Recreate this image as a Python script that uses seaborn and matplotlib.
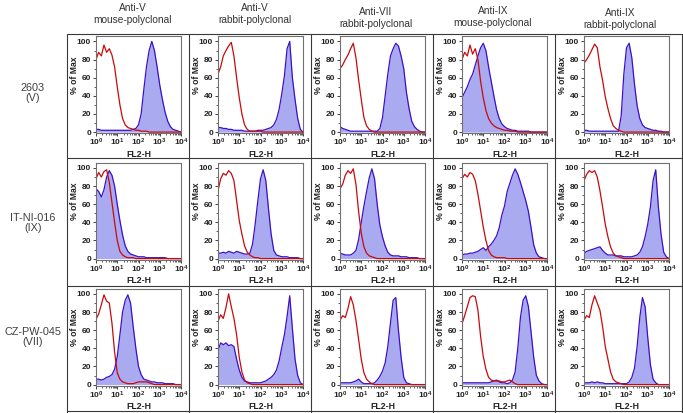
import numpy as np
import matplotlib
matplotlib.use('Agg')
import matplotlib.pyplot as plt
from matplotlib.ticker import LogLocator, NullFormatter, MultipleLocator
import seaborn as sns

# FL2-H histogram bins, in decades (10^0 .. 10^4)
fl2_decades = np.linspace(0, 4, 33)

strain_labels = ['2603\n(V)', 'IT-NI-016\n(IX)', 'CZ-PW-045\n(VII)']
antibody_labels = ['Anti-V\nmouse-polyclonal', 'Anti-V\nrabbit-polyclonal',
                   'Anti-VII\nrabbit-polyclonal', 'Anti-IX\nmouse-polyclonal',
                   'Anti-IX\nrabbit-polyclonal']
decade_labels = ['10^{0}', '10^{1}', '10^{2}', '10^{3}', '10^{4}']

# % of max per bin: ctrl = control (red line), stain = antiserum (blue filled)
# strain 2603 (V)
ctrl_2603_v_mouse = [80, 88, 84, 96, 88, 92, 85, 72, 50, 30, 15, 8, 5, 4, 3, 2,
                     2, 1, 1, 1, 0, 0, 0, 0, 0, 0, 0, 0, 0, 0, 0, 0, 0]
stain_2603_v_mouse = [3, 3, 2, 2, 2, 2, 2, 2, 2, 2, 2, 2, 2, 2, 3, 4,
                      8, 20, 47, 72, 90, 100, 90, 72, 52, 36, 22, 12, 6, 3, 2, 1, 0]
ctrl_2603_v_rabbit = [64, 72, 84, 90, 95, 99, 84, 60, 38, 20, 8, 3, 1, 1, 1, 1,
                      1, 0, 0, 0, 0, 0, 0, 0, 0, 0, 0, 0, 0, 0, 0, 0, 0]
stain_2603_v_rabbit = [5, 5, 4, 4, 3, 3, 2, 2, 2, 2, 1, 1, 1, 1, 1, 2,
                       2, 2, 3, 4, 5, 8, 14, 25, 42, 62, 92, 100, 60, 36, 15, 3, 0]
ctrl_2603_vii_rabbit = [70, 74, 80, 85, 92, 98, 82, 58, 36, 16, 7, 3, 1, 0, 0, 0,
                        0, 0, 0, 0, 0, 0, 0, 0, 0, 0, 0, 0, 0, 0, 0, 0, 0]
stain_2603_vii_rabbit = [6, 4, 3, 2, 1, 1, 1, 1, 1, 1, 1, 1, 1, 1, 1, 4,
                         16, 40, 64, 84, 92, 98, 95, 84, 70, 44, 26, 12, 6, 3, 1, 0, 0]
ctrl_2603_ix_mouse = [80, 88, 84, 96, 86, 92, 80, 56, 38, 24, 15, 10, 7, 5, 4, 3,
                      2, 2, 1, 1, 1, 0, 0, 0, 0, 0, 0, 0, 0, 0, 0, 0, 0]
stain_2603_ix_mouse = [38, 44, 50, 58, 64, 74, 84, 93, 98, 90, 72, 56, 40, 25, 15, 9,
                       6, 4, 3, 2, 2, 1, 1, 1, 1, 1, 0, 0, 0, 0, 0, 0, 0]
ctrl_2603_ix_rabbit = [76, 80, 85, 91, 97, 93, 72, 57, 39, 26, 15, 7, 4, 2, 1, 0,
                       0, 0, 0, 0, 0, 0, 0, 0, 0, 0, 0, 0, 0, 0, 0, 0, 0]
stain_2603_ix_rabbit = [2, 2, 1, 1, 1, 1, 1, 1, 1, 1, 1, 1, 1, 1, 18, 64,
                        93, 98, 82, 53, 29, 15, 8, 5, 4, 3, 2, 2, 1, 1, 0, 0, 0]

# strain IT-NI-016 (IX)
ctrl_itni_v_mouse = [88, 95, 90, 96, 98, 84, 62, 40, 20, 8, 4, 2, 1, 1, 1, 0,
                     0, 0, 0, 0, 0, 0, 0, 0, 0, 0, 0, 0, 0, 0, 0, 0, 0]
stain_itni_v_mouse = [77, 74, 68, 76, 90, 97, 92, 80, 60, 42, 26, 14, 8, 5, 4, 3,
                      2, 2, 2, 1, 1, 1, 1, 1, 1, 1, 1, 0, 0, 0, 0, 0, 0]
ctrl_itni_v_rabbit = [75, 88, 94, 92, 97, 94, 86, 64, 42, 27, 14, 7, 4, 2, 1, 1,
                      0, 0, 0, 0, 0, 0, 0, 0, 0, 0, 0, 0, 0, 0, 0, 0, 0]
stain_itni_v_rabbit = [6, 6, 7, 6, 8, 7, 6, 8, 7, 6, 5, 5, 6, 16, 38, 64,
                       88, 98, 86, 55, 27, 9, 4, 3, 2, 2, 2, 1, 1, 1, 1, 0, 0]
ctrl_itni_vii_rabbit = [77, 82, 92, 97, 94, 99, 82, 52, 28, 13, 6, 3, 2, 1, 0, 0,
                        0, 0, 0, 0, 0, 0, 0, 0, 0, 0, 0, 0, 0, 0, 0, 0, 0]
stain_itni_vii_rabbit = [6, 5, 4, 4, 4, 6, 9, 21, 40, 58, 74, 89, 99, 88, 60, 37,
                         24, 14, 7, 4, 3, 3, 3, 2, 2, 2, 1, 1, 1, 1, 0, 0, 0]
ctrl_itni_ix_mouse = [88, 93, 90, 95, 93, 86, 71, 53, 35, 20, 9, 4, 2, 1, 1, 1,
                      1, 0, 0, 0, 0, 0, 0, 0, 0, 0, 0, 0, 0, 0, 0, 0, 0]
stain_itni_ix_mouse = [4, 5, 5, 6, 6, 7, 8, 10, 12, 9, 13, 16, 20, 25, 34, 48,
                       58, 74, 83, 92, 99, 93, 84, 74, 64, 52, 34, 15, 6, 2, 1, 0, 0]
ctrl_itni_ix_rabbit = [86, 93, 97, 95, 97, 90, 75, 57, 38, 24, 13, 6, 3, 2, 1, 0,
                       0, 0, 0, 0, 0, 0, 0, 0, 0, 0, 0, 0, 0, 0, 0, 0, 0]
stain_itni_ix_rabbit = [6, 8, 9, 10, 11, 12, 13, 9, 6, 4, 4, 4, 3, 3, 3, 2,
                        2, 2, 2, 3, 4, 7, 13, 24, 38, 57, 86, 98, 57, 27, 7, 2, 0]

# strain CZ-PW-045 (VII)
ctrl_czpw_v_mouse = [72, 78, 88, 99, 92, 90, 68, 36, 13, 6, 3, 2, 1, 1, 1, 2,
                     3, 3, 3, 3, 2, 1, 0, 0, 0, 0, 0, 0, 0, 0, 0, 0, 0]
stain_czpw_v_mouse = [6, 6, 5, 6, 8, 9, 11, 17, 31, 55, 80, 93, 99, 90, 64, 40,
                      20, 11, 6, 5, 4, 3, 3, 2, 2, 2, 1, 1, 1, 1, 0, 0, 0]
ctrl_czpw_v_rabbit = [70, 77, 73, 85, 100, 86, 73, 55, 30, 14, 5, 2, 1, 0, 0, 0,
                      0, 0, 0, 0, 0, 0, 0, 0, 0, 0, 0, 0, 0, 0, 0, 0, 0]
stain_czpw_v_rabbit = [38, 46, 44, 46, 43, 44, 42, 28, 16, 8, 4, 3, 2, 2, 2, 2,
                       2, 3, 4, 6, 8, 11, 16, 26, 41, 55, 75, 98, 62, 28, 10, 2, 0]
ctrl_czpw_vii_rabbit = [71, 76, 74, 84, 97, 88, 71, 50, 28, 13, 6, 3, 1, 0, 0, 0,
                        0, 0, 0, 0, 0, 0, 0, 0, 0, 0, 0, 0, 0, 0, 0, 0, 0]
stain_czpw_vii_rabbit = [2, 2, 2, 2, 2, 3, 4, 6, 3, 1, 1, 1, 1, 2, 5, 9,
                         15, 24, 42, 68, 93, 96, 60, 30, 8, 2, 1, 0, 0, 0, 0, 0, 0]
ctrl_czpw_ix_mouse = [67, 76, 86, 96, 98, 97, 82, 53, 31, 17, 8, 5, 4, 4, 4, 3,
                      3, 4, 5, 3, 1, 0, 0, 0, 0, 0, 0, 0, 0, 0, 0, 0, 0]
stain_czpw_ix_mouse = [2, 2, 2, 2, 2, 2, 2, 2, 2, 2, 2, 3, 4, 5, 3, 2,
                       2, 1, 2, 5, 14, 40, 74, 93, 98, 86, 58, 30, 10, 4, 1, 0, 0]
ctrl_czpw_ix_rabbit = [71, 76, 74, 88, 98, 90, 82, 64, 42, 28, 14, 6, 3, 2, 1, 0,
                       0, 0, 0, 0, 0, 0, 0, 0, 0, 0, 0, 0, 0, 0, 0, 0, 0]
stain_czpw_ix_rabbit = [2, 2, 2, 3, 2, 3, 2, 2, 1, 1, 1, 1, 1, 1, 1, 1,
                        1, 3, 8, 18, 42, 74, 96, 86, 52, 22, 6, 2, 0, 0, 0, 0, 0]

panels = [
    [(ctrl_2603_v_mouse, stain_2603_v_mouse), (ctrl_2603_v_rabbit, stain_2603_v_rabbit),
     (ctrl_2603_vii_rabbit, stain_2603_vii_rabbit), (ctrl_2603_ix_mouse, stain_2603_ix_mouse),
     (ctrl_2603_ix_rabbit, stain_2603_ix_rabbit)],
    [(ctrl_itni_v_mouse, stain_itni_v_mouse), (ctrl_itni_v_rabbit, stain_itni_v_rabbit),
     (ctrl_itni_vii_rabbit, stain_itni_vii_rabbit), (ctrl_itni_ix_mouse, stain_itni_ix_mouse),
     (ctrl_itni_ix_rabbit, stain_itni_ix_rabbit)],
    [(ctrl_czpw_v_mouse, stain_czpw_v_mouse), (ctrl_czpw_v_rabbit, stain_czpw_v_rabbit),
     (ctrl_czpw_vii_rabbit, stain_czpw_vii_rabbit), (ctrl_czpw_ix_mouse, stain_czpw_ix_mouse),
     (ctrl_czpw_ix_rabbit, stain_czpw_ix_rabbit)],
]

RED = '#c80a0a'
BLUE = '#3c10c8'
FILL = '#aaaaf0'
GRID_LINE = '#3a3a3a'

sns.set_style('ticks')
plt.rcParams['font.family'] = ['Liberation Sans', 'DejaVu Sans']
plt.rcParams['mathtext.fontset'] = 'custom'
plt.rcParams['mathtext.rm'] = 'Liberation Sans'
plt.rcParams['mathtext.bf'] = 'Liberation Sans:bold'

W, H = 683, 413
fig = plt.figure(figsize=(W / 100, H / 100), dpi=100)

# background layer in pixel coordinates for the table frame and labels
bg = fig.add_axes([0, 0, 1, 1])
bg.set_xlim(0, W)
bg.set_ylim(H, 0)
bg.axis('off')

col_edges = [67, 189, 311, 433, 555, 682]
row_edges = [34, 158, 286, 411]
for x in col_edges:
    bg.plot([x, x], [row_edges[0], H], color=GRID_LINE, lw=0.8)
for y in row_edges:
    bg.plot([col_edges[0], col_edges[-1]], [y, y], color=GRID_LINE, lw=0.8)

header_x = [133, 255, 376, 493, 620]
header_y = [14, 14, 18, 17, 19]
for label, hx, hy in zip(antibody_labels, header_x, header_y):
    bg.text(hx, hy, label, ha='center', va='center', fontsize=7.3,
            color='#333333', linespacing=1.25)

row_label_y = [93, 223, 337]
for label, ry in zip(strain_labels, row_label_y):
    bg.text(33, ry, label, ha='center', va='center', fontsize=7.8,
            color='#404040', linespacing=1.1)

ax_left0 = 96
ax_step = 122
ax_w = 85
ax_h = 97
ax_tops = [36, 162.5, 288.5]

for r, row in enumerate(panels):
    for c, (ctrl, stain) in enumerate(row):
        left = ax_left0 + ax_step * c
        top = ax_tops[r]
        ax = fig.add_axes([left / W, 1 - (top + ax_h) / H, ax_w / W, ax_h / H])

        xs = 10 ** np.concatenate([[0.0], fl2_decades])
        blue = np.concatenate([[0], stain])
        red = np.concatenate([[0], ctrl])

        ax.fill_between(xs, 0, blue, color=FILL, lw=0)
        sns.lineplot(x=xs, y=blue, color=BLUE, lw=0.9, ax=ax,
                     estimator=None, sort=False)
        sns.lineplot(x=xs, y=red, color=RED, lw=0.9, ax=ax,
                     estimator=None, sort=False)

        ax.set_xscale('log')
        ax.set_xlim(1, 1e4)
        ax.set_ylim(-1, 106)
        ax.set_xticks([1, 10, 100, 1000, 10000],
                      labels=[r'$\mathbf{%s}$' % d for d in decade_labels])
        ax.xaxis.set_minor_locator(LogLocator(base=10, subs=np.arange(2, 10), numticks=10))
        ax.xaxis.set_minor_formatter(NullFormatter())
        ax.set_yticks([0, 20, 40, 60, 80, 100])
        ax.yaxis.set_minor_locator(MultipleLocator(10))
        for lbl in ax.get_yticklabels():
            lbl.set_fontweight('bold')

        ax.tick_params(which='major', direction='out', length=2.5, width=0.6,
                       pad=1, labelsize=6.0, colors='#222222')
        ax.tick_params(axis='x', which='major', pad=0.5)
        ax.tick_params(which='minor', direction='out', length=1.3, width=0.5,
                       colors='#222222')

        ax.set_xlabel('FL2-H', fontsize=6.3, fontweight='bold', color='#222222')
        ax.xaxis.set_label_coords(0.5, -0.175)
        ax.set_ylabel('% of Max', fontsize=6.2, fontweight='bold', color='#222222')
        ax.yaxis.set_label_coords(-0.2, 0.6)

        for sp in ax.spines.values():
            sp.set_visible(True)
            sp.set_color('#707070')
            sp.set_linewidth(0.8)

fig.savefig('out.png', dpi=100)
